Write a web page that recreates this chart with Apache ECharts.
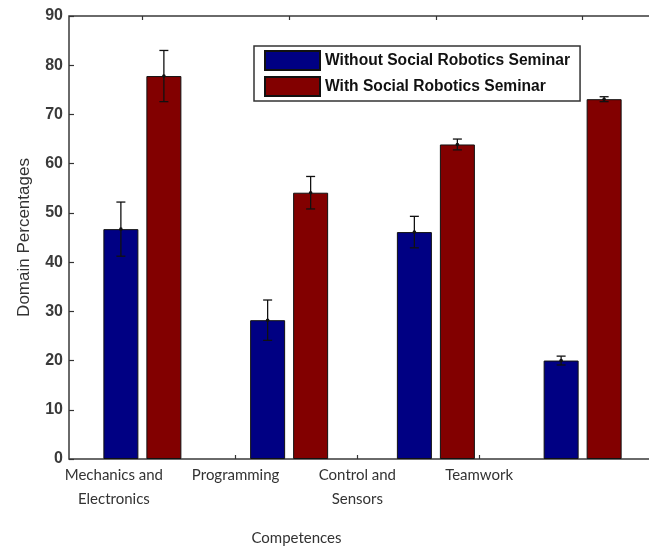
<!DOCTYPE html>
<html>
<head>
<meta charset="utf-8">
<script src="https://cdn.jsdelivr.net/npm/echarts@6/dist/echarts.min.js"></script>
<style>html,body{margin:0;padding:0;background:#fff;}#c{width:649px;height:548px;}</style>
</head>
<body>
<div id="c"></div>
<script>
const categories = ['Mechanics and\nElectronics', 'Programming', 'Control and\nSensors', 'Teamwork'];
const seriesNames = ['Without Social Robotics Seminar', 'With Social Robotics Seminar'];
const withoutMean = [46.7, 28.2, 46.1, 20.0];
const withoutErr = [5.5, 4.1, 3.2, 0.9];
const withMean = [77.8, 54.1, 63.9, 73.1];
const withErr = [5.2, 3.3, 1.1, 0.5];
const yTicks = [0, 10, 20, 30, 40, 50, 60, 70, 80, 90];

const BAR_W = 35, BAR_GAP = 8;
const chart = echarts.init(document.getElementById('c'));

function errData(means, errs) {
  return means.map((m, i) => [i, m - errs[i], m + errs[i], m]);
}
function errRender(offset) {
  return function (params, api) {
    const i = api.value(0);
    const lo = api.coord([i, api.value(1)]);
    const hi = api.coord([i, api.value(2)]);
    const mid = api.coord([i, api.value(3)]);
    const x = mid[0] + offset;
    const cap = 4.5;
    const st = { stroke: '#111', lineWidth: 1.3 };
    return {
      type: 'group',
      children: [
        { type: 'line', shape: { x1: x, y1: hi[1], x2: x, y2: lo[1] }, style: st },
        { type: 'line', shape: { x1: x - cap, y1: hi[1], x2: x + cap, y2: hi[1] }, style: st },
        { type: 'line', shape: { x1: x - cap, y1: lo[1], x2: x + cap, y2: lo[1] }, style: st },
        { type: 'circle', shape: { cx: x, cy: mid[1], r: 1.8 }, style: { fill: '#111' } }
      ]
    };
  };
}
const off = (BAR_W + BAR_GAP) / 2;

chart.setOption({
  animation: false,
  backgroundColor: '#fff',
  grid: [
    { left: 69, top: 16, width: 587, height: 443, outerBoundsMode: 'none', containLabel: false, show: true, borderColor: '#3a3a3a', borderWidth: 1.5, backgroundColor: 'transparent' },
    { left: 53, top: 16, width: 487, height: 443, outerBoundsMode: 'none', containLabel: false, show: false }
  ],
  legend: {
    data: seriesNames,
    orient: 'vertical',
    left: 254, top: 46,
    itemWidth: 55, itemHeight: 19, itemGap: 5,
    padding: [4, 10, 4, 10],
    borderColor: '#333', borderWidth: 1.5,
    backgroundColor: '#fff',
    icon: 'rect',
    textStyle: { fontFamily: 'Arial, Liberation Sans', fontWeight: 'bold', fontSize: 15.6, lineHeight: 18, color: '#111' }
  },
  xAxis: [
    {
      type: 'category', gridIndex: 0, data: categories, position: 'top',
      axisLine: { show: false, onZero: false },
      axisTick: { show: true, inside: true, alignWithLabel: true, length: 4, lineStyle: { color: '#333', width: 1.2 } },
      axisLabel: { show: false }
    },
    {
      type: 'category', gridIndex: 1, data: categories, position: 'bottom',
      axisLine: { show: false, onZero: false },
      axisTick: { show: true, inside: true, alignWithLabel: true, length: 4, lineStyle: { color: '#333', width: 1.2 } },
      axisLabel: { interval: 0, margin: 4, fontFamily: 'Lato', fontSize: 15, lineHeight: 24, color: '#333' },
      name: 'Competences', nameLocation: 'middle', nameGap: 72,
      nameTextStyle: { fontFamily: 'Lato', fontSize: 15, color: '#333' }
    }
  ],
  yAxis: [
    {
      type: 'value', gridIndex: 0, min: 0, max: 90, interval: 10,
      axisLine: { show: false },
      axisTick: { show: true, inside: true, length: 5, lineStyle: { color: '#333', width: 1.2 } },
      splitLine: { show: false },
      axisLabel: {
        margin: 6, fontFamily: 'Arial, Liberation Sans', fontWeight: 'bold', fontSize: 16, color: '#3a3a3a',
        formatter: v => (yTicks.indexOf(v) >= 0 ? String(v) : '')
      },
      name: 'Domain Percentages', nameLocation: 'middle', nameGap: 36,
      nameTextStyle: { fontFamily: 'Arial, Liberation Sans', fontSize: 17, color: '#333' }
    },
    { type: 'value', gridIndex: 1, min: 0, max: 90, show: false }
  ],
  series: [
    {
      name: seriesNames[0], type: 'bar', xAxisIndex: 0, yAxisIndex: 0,
      data: withoutMean, barWidth: BAR_W, barGap: (BAR_GAP / BAR_W * 100) + '%',
      itemStyle: { color: '#000083', borderColor: '#111', borderWidth: 1 }
    },
    {
      name: seriesNames[1], type: 'bar', xAxisIndex: 0, yAxisIndex: 0,
      data: withMean, barWidth: BAR_W,
      itemStyle: { color: '#820000', borderColor: '#111', borderWidth: 1 }
    },
    {
      type: 'custom', xAxisIndex: 0, yAxisIndex: 0, renderItem: errRender(-off),
      data: errData(withoutMean, withoutErr), encode: { x: 0, y: [1, 2] }, z: 5
    },
    {
      type: 'custom', xAxisIndex: 0, yAxisIndex: 0, renderItem: errRender(off),
      data: errData(withMean, withErr), encode: { x: 0, y: [1, 2] }, z: 5
    }
  ]
});
</script>
</body>
</html>
